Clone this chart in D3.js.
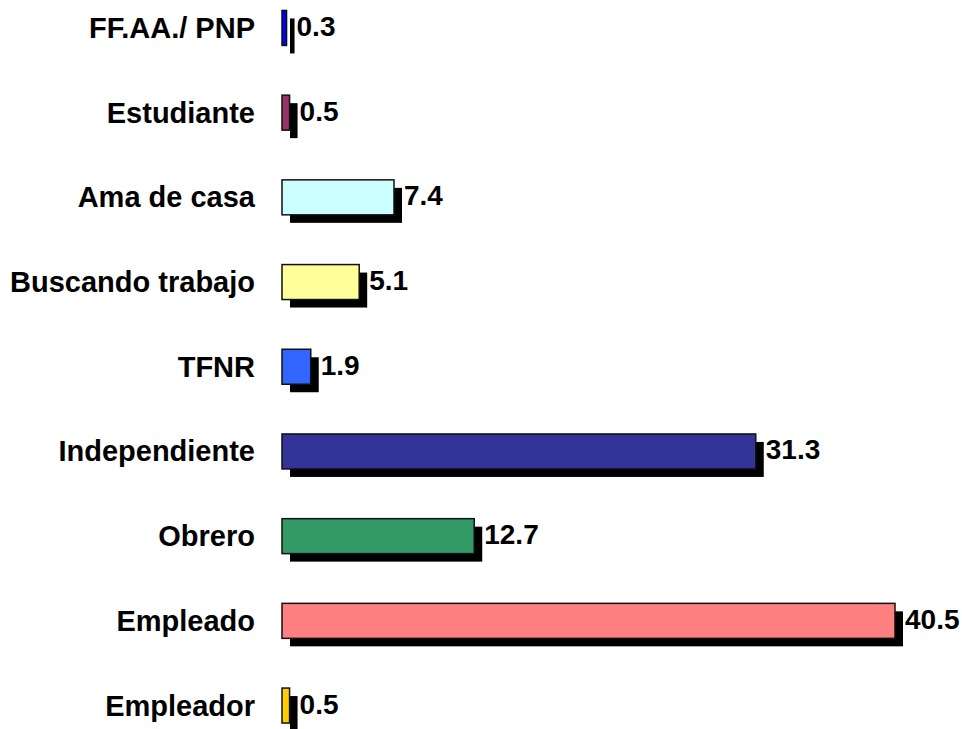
<!DOCTYPE html>
<html>
<head>
<meta charset="utf-8">
<script src="https://cdn.jsdelivr.net/npm/d3@7"></script>
<style>
  html, body { margin: 0; padding: 0; background: #ffffff; }
  svg { display: block; }
  text { font-family: "Liberation Sans", Arial, sans-serif; font-weight: bold; fill: #000; }
</style>
</head>
<body>
<svg id="chart" width="962" height="729"></svg>
<script>
const categories = ["FF.AA./ PNP", "Estudiante", "Ama de casa", "Buscando trabajo", "TFNR",
                    "Independiente", "Obrero", "Empleado", "Empleador"];
const values = [0.3, 0.5, 7.4, 5.1, 1.9, 31.3, 12.7, 40.5, 0.5];
const valueLabels = ["0.3", "0.5", "7.4", "5.1", "1.9", "31.3", "12.7", "40.5", "0.5"];
const colors = ["#0000FF", "#993366", "#CCFFFF", "#FFFF99", "#3366FF",
                "#333399", "#339966", "#FF8080", "#FFCC00"];

const svg = d3.select("#chart");
const x0 = 282;
const x = d3.scaleLinear().domain([0, 40.5]).range([x0, 895]);
const y = d3.scaleBand().domain(categories).range([-14.4, 747.9])
  .paddingInner(0.587).paddingOuter(0.2935);

const shadow = 8;
const data = categories.map((c, i) => ({ c, v: values[i], label: valueLabels[i], color: colors[i] }));

const g = svg.append("g");

// shadows
g.selectAll("rect.shadow").data(data).enter().append("rect")
  .attr("class", "shadow")
  .attr("x", d => x0 + shadow)
  .attr("y", d => y(d.c) + shadow)
  .attr("width", d => Math.max(x(d.v) - x0, 4))
  .attr("height", y.bandwidth())
  .attr("fill", "#000");

// bars
g.selectAll("rect.bar").data(data).enter().append("rect")
  .attr("class", "bar")
  .attr("x", x0)
  .attr("y", d => y(d.c))
  .attr("width", d => Math.max(x(d.v) - x0, 4))
  .attr("height", y.bandwidth())
  .attr("fill", d => d.color)
  .attr("stroke", "#111")
  .attr("stroke-width", 1.5);

// category labels
g.selectAll("text.cat").data(data).enter().append("text")
  .attr("class", "cat")
  .attr("x", 255)
  .attr("y", d => y(d.c) + y.bandwidth() / 2 + 10)
  .attr("text-anchor", "end")
  .style("font-size", "29px")
  .text(d => d.c);

// value labels
g.selectAll("text.val").data(data).enter().append("text")
  .attr("class", "val")
  .attr("x", d => x0 + Math.max(x(d.v) - x0, 4) + shadow + 2)
  .attr("y", d => y(d.c) + y.bandwidth() / 2 + 8)
  .attr("text-anchor", "start")
  .style("font-size", "28px")
  .text(d => d.label);
</script>
</body>
</html>
